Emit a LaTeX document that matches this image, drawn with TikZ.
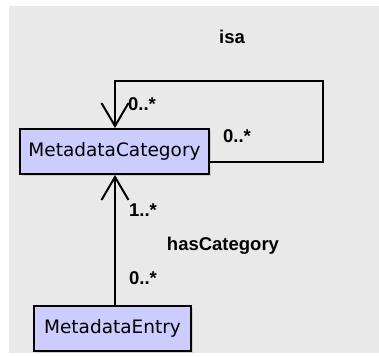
\documentclass[tikz,border=0pt]{standalone}
\usepackage{fontspec}
\newfontfamily\clsfont{DejaVu Sans}
\newfontfamily\lblfont{Liberation Sans}
\usetikzlibrary{arrows.meta,positioning,shadows}
\definecolor{bggray}{RGB}{233,233,233}
\definecolor{clsfill}{RGB}{204,204,255}

\begin{document}
\begin{tikzpicture}[x=1pt, y=-1pt, line width=2pt, cls/.style={draw, fill=clsfill, inner sep=0pt, minimum height=45pt, font=\clsfont\fontsize{18.5}{20}\selectfont, drop shadow={shadow xshift=2pt, shadow yshift=-2pt, opacity=0.25}}, lbl/.style={font=\lblfont\bfseries\fontsize{18.5}{20}\selectfont}, assoc/.style={-{Straight Barb[length=23pt, width=27pt, line width=2pt]}}]
\useasboundingbox (0,0) rectangle (379,356);
\fill[bggray] (9,6) rectangle (379,353);
\node[cls, minimum width=189pt] (cat) at (114.5,151.5) {MetadataCategory};
\node[cls, minimum width=157pt] (ent) at (112.5,328.5) {MetadataEntry};
\coordinate (mid) at (115,0);
\coordinate (ne) at (323,81);
\coordinate (se) at (323,162);
\draw[assoc] (se -| cat.east) -- (se) -- (ne) -- (ne -| mid) -- (mid |- cat.north);
\draw[assoc] (ent.north -| mid) -- (mid |- cat.south);
\node[lbl] (isa) at (232,37) {isa};
\node[lbl] (m1) at (142,104) {0..*};
\node[lbl] (m2) at (237,136) {0..*};
\node[lbl] (m3) at (143,210) {1..*};
\node[lbl] (has) at (223,246) {hasCategory};
\node[lbl] (m4) at (143,278) {0..*};
\end{tikzpicture}
\end{document}
